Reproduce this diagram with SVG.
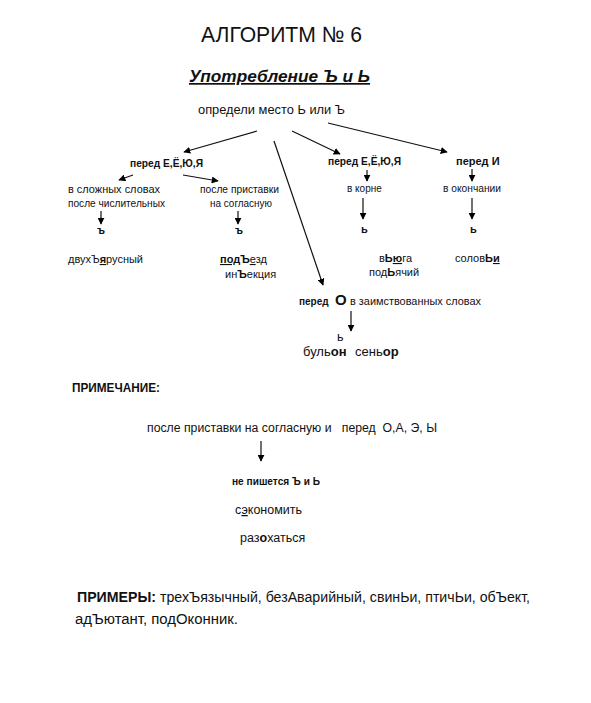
<svg xmlns="http://www.w3.org/2000/svg" width="591" height="703" viewBox="0 0 591 703">
<defs>
<marker id="ah" viewBox="0 0 10 10" refX="9" refY="5" markerWidth="7" markerHeight="7" orient="auto" markerUnits="userSpaceOnUse">
<path d="M0,0 L10,5 L0,10 z" fill="#000"/>
</marker>
<style>
text{font-family:"Liberation Sans",Arial,sans-serif;fill:#111}
.b{font-weight:bold}
.u{text-decoration:underline}
.s10{font-size:10px}
.s11{font-size:11px}
.s12{font-size:12.5px}
.s13{font-size:13px}
.s14{font-size:14px}
line{stroke:#111;stroke-width:1.2;fill:none}
.a{marker-end:url(#ah)}
</style>
</defs>
<rect width="591" height="703" fill="#fff"/>

<g id="title">
<text x="201" y="42" font-size="22" textLength="161" lengthAdjust="spacingAndGlyphs">АЛГОРИТМ № 6</text>
<text x="189" y="82" font-size="17" font-weight="bold" font-style="italic" text-decoration="underline" textLength="181" lengthAdjust="spacingAndGlyphs">Употребление Ъ и Ь</text>
</g>

<g id="root"><text x="198" y="114" class="s13" textLength="147" lengthAdjust="spacingAndGlyphs">определи место Ь или Ъ</text></g>

<g id="n-left"><text x="130" y="167" class="s11 b" textLength="73" lengthAdjust="spacingAndGlyphs">перед Е,Ё,Ю,Я</text></g>
<g id="n-comp">
<text x="68" y="193" class="s10" textLength="92" lengthAdjust="spacingAndGlyphs">в сложных словах</text>
<text x="68" y="207" class="s10" textLength="97" lengthAdjust="spacingAndGlyphs">после числительных</text>
<text x="97" y="234" class="s11 b">ъ</text>
<text x="68" y="263" class="s11" textLength="75" lengthAdjust="spacingAndGlyphs">двухЪ<tspan class="b u">я</tspan>русный</text>
</g>
<g id="n-pref">
<text x="200" y="193" class="s10" textLength="79" lengthAdjust="spacingAndGlyphs">после приставки</text>
<text x="210" y="207" class="s10" textLength="62" lengthAdjust="spacingAndGlyphs">на согласную</text>
<text x="235" y="234" class="s11 b">ъ</text>
<text x="220" y="263" class="s11"><tspan class="b u">под</tspan><tspan class="b">Ъ</tspan><tspan class="u">е</tspan>зд</text>
<text x="225" y="278" class="s11">ин<tspan class="b">Ъ</tspan>екция</text>
</g>

<g id="n-mid"><text x="328" y="165" class="s11 b" textLength="73" lengthAdjust="spacingAndGlyphs">перед Е,Ё,Ю,Я</text>
<text x="347" y="192" class="s10">в корне</text>
<text x="361" y="233" class="s11 b">ь</text>
<text x="379" y="262" class="s11">в<tspan class="b">Ь</tspan><tspan class="b u">ю</tspan>га</text>
<text x="369" y="276" class="s11">под<tspan class="b">Ь</tspan>ячий</text>
</g>

<g id="n-right"><text x="456" y="165" class="s11 b">перед И</text>
<text x="443" y="192" class="s10" textLength="58" lengthAdjust="spacingAndGlyphs">в окончании</text>
<text x="470" y="233" class="s11 b">ь</text>
<text x="455" y="262" class="s11">солов<tspan class="b">Ь</tspan><tspan class="b u">и</tspan></text>
</g>

<g id="n-o">
<text x="299" y="305" class="s10 b">перед</text>
<text x="335" y="305" font-size="15" class="b">О</text>
<text x="350" y="305" class="s10" textLength="131" lengthAdjust="spacingAndGlyphs">в заимствованных словах</text>
<text x="337" y="341" class="s12">ь</text>
<text x="303" y="356" class="s13">буль<tspan class="b">он</tspan></text>
<text x="355" y="356" class="s13">сень<tspan class="b">ор</tspan></text>
</g>

<g id="note">
<text x="72" y="392" class="s12 b" textLength="88" lengthAdjust="spacingAndGlyphs">ПРИМЕЧАНИЕ:</text>
<text x="147" y="432" class="s12" textLength="290" lengthAdjust="spacingAndGlyphs" xml:space="preserve">после приставки на согласную и   перед  О,А, Э, Ы</text>
</g>
<g id="n-not">
<text x="232" y="485" class="s10 b" textLength="88" lengthAdjust="spacingAndGlyphs">не пишется Ъ и Ь</text>
<text x="235" y="514" class="s12">с<tspan class="u">э</tspan>кономить</text>
<text x="240" y="542" class="s12">раз<tspan class="b">о</tspan>хаться</text>
</g>

<g id="examples">
<text x="77" y="602" class="s14" textLength="453" lengthAdjust="spacingAndGlyphs"><tspan class="b">ПРИМЕРЫ:</tspan> трехЪязычный, безАварийный, свинЬи, птичЬи, обЪект,</text>
<text x="75" y="624" class="s14" textLength="163" lengthAdjust="spacingAndGlyphs">адЪютант, подОконник.</text>
</g>

<g id="connectors">
<line class="a" x1="257" y1="131" x2="184" y2="152"/>
<line class="a" x1="274" y1="141" x2="323" y2="285"/>
<line class="a" x1="292" y1="131" x2="340" y2="154"/>
<line class="a" x1="328" y1="123" x2="447" y2="152"/>
<line class="a" x1="133" y1="175" x2="119" y2="180"/>
<line class="a" x1="183" y1="175" x2="218" y2="181"/>
<line class="a" x1="101" y1="211" x2="101" y2="224"/>
<line class="a" x1="238" y1="211" x2="238" y2="224"/>
<line class="a" x1="367" y1="170" x2="367" y2="181"/>
<line class="a" x1="363" y1="198" x2="363" y2="219"/>
<line class="a" x1="472" y1="169" x2="472" y2="181"/>
<line class="a" x1="472" y1="198" x2="472" y2="219"/>
<line class="a" x1="351" y1="311" x2="351" y2="331"/>
<line class="a" x1="261" y1="441" x2="261" y2="461"/>
</g>
</svg>
